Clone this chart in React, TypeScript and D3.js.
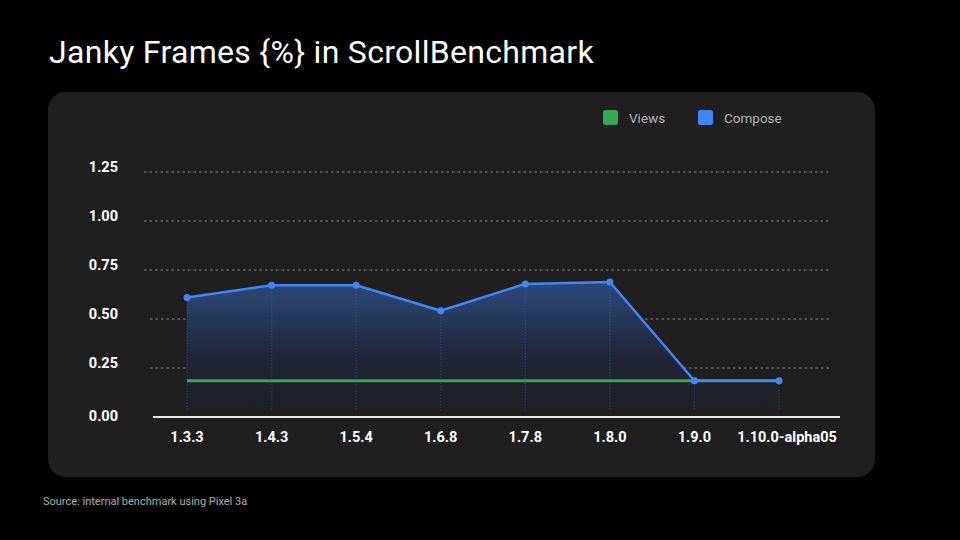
import React from "react";
import * as d3 from "d3";

const categories = ["1.3.3", "1.4.3", "1.5.4", "1.6.8", "1.7.8", "1.8.0", "1.9.0", "1.10.0-alpha05"];
const viewsValues = [0.185, 0.185, 0.185, 0.185, 0.185, 0.185, 0.185, 0.185];
const composeValues = [0.61, 0.672, 0.672, 0.542, 0.679, 0.689, 0.185, 0.185];
const yTicks = [0, 0.25, 0.5, 0.75, 1.0, 1.25];
const seriesNames = ["Views", "Compose"];
const seriesColors = ["#34a853", "#4285f4"];

const W = 960;
const H = 540;

export default function App() {
  const x = d3.scalePoint<string>().domain(categories).range([187, 779]);
  const y = d3.scaleLinear().domain([0, 1.25]).range([417, 172]);

  const line = d3
    .line<number>()
    .x((_, i) => x(categories[i]) as number)
    .y((d) => y(d));
  const area = d3
    .area<number>()
    .x((_, i) => x(categories[i]) as number)
    .y0(y(0))
    .y1((d) => y(d));

  const font = "Roboto, 'Noto Sans', sans-serif";

  return (
    <svg
      width={W}
      height={H}
      style={{ position: "absolute", left: 0, top: 0, background: "#000" }}
    >
      <defs>
        <linearGradient id="composeFill" x1="0" y1={y(0.7)} x2="0" y2={y(0)} gradientUnits="userSpaceOnUse">
          <stop offset="0" stopColor="#2d4a7d" stopOpacity={1} />
          <stop offset="0.55" stopColor="#1f2638" stopOpacity={1} />
          <stop offset="1" stopColor="#1f1f1f" stopOpacity={1} />
        </linearGradient>
      </defs>
      <rect x={0} y={0} width={W} height={H} fill="#000" />
      <text x={49} y={63} fill="#fff" fontFamily={font} fontSize={32} fontWeight={400} letterSpacing={0.3}>
        Janky Frames {"{%}"} in ScrollBenchmark
      </text>
      <rect x={48} y={92} width={827} height={385} rx={18} fill="#1f1f1f" />

      {/* legend */}
      {seriesNames.map((n, i) => (
        <g key={n} transform={`translate(${[603, 698][i]},110)`}>
          <rect x={0} y={0} width={15} height={15} rx={2.5} fill={seriesColors[i]} />
          <text x={26} y={12.5} fill="#b5b5b5" fontFamily={font} fontSize={13.5}>
            {n}
          </text>
        </g>
      ))}

      {/* gridlines & y labels */}
      {yTicks.map((t) => (
        <g key={t}>
          {t > 0 && (
            <line
              x1={t >= 0.75 ? 144 : 150}
              x2={830}
              y1={y(t)}
              y2={y(t)}
              stroke="#8a8a8a"
              strokeWidth={1}
              strokeDasharray="2.5 3"
            />
          )}
          <text
            x={118}
            y={t === 0 ? y(t) + 4 : y(t)}
            textAnchor="end"
            fill="#fff"
            fontFamily={font}
            fontSize={14.5}
            fontWeight={700}
          >
            {t.toFixed(2)}
          </text>
        </g>
      ))}

      {/* area */}
      <path d={area(composeValues) ?? ""} fill="url(#composeFill)" />

      {/* vertical drop lines */}
      {composeValues.map((v, i) => (
        <line
          key={i}
          x1={x(categories[i])}
          x2={x(categories[i])}
          y1={y(v)}
          y2={y(0) - 6}
          stroke="#3b6fc4"
          strokeOpacity={0.3}
          strokeWidth={1.5}
          strokeDasharray="1.5 1.5"
        />
      ))}

      {/* views line */}
      <path d={line(viewsValues) ?? ""} fill="none" stroke={seriesColors[0]} strokeWidth={3} />

      {/* compose line */}
      <path
        d={line(composeValues) ?? ""}
        fill="none"
        stroke={seriesColors[1]}
        strokeWidth={2.5}
        strokeLinejoin="round"
      />
      {composeValues.map((v, i) => (
        <circle key={i} cx={x(categories[i])} cy={y(v)} r={3.5} fill={seriesColors[1]} />
      ))}

      {/* x axis */}
      <line x1={153} x2={840} y1={y(0)} y2={y(0)} stroke="#e8e8e8" strokeWidth={2} />
      {categories.map((c, i) => (
        <text
          key={c}
          x={(x(c) as number) + (i === categories.length - 1 ? 8 : 0)}
          y={442}
          textAnchor="middle"
          fill="#fff"
          fontFamily={font}
          fontSize={14.5}
          fontWeight={700}
        >
          {c}
        </text>
      ))}

      <text x={43} y={505} fill="#b0b0b0" fontFamily={font} fontSize={11}>
        Source: internal benchmark using Pixel 3a
      </text>
    </svg>
  );
}
